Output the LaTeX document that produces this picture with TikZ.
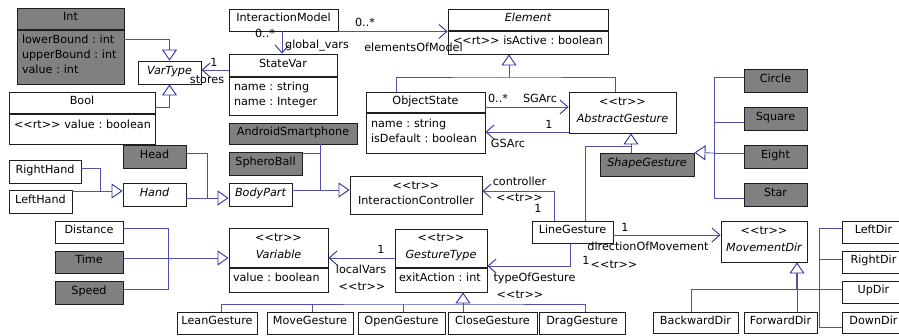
\documentclass[tikz,border=0pt]{standalone}
\usepackage{fontspec}
\setmainfont{DejaVu Sans}
\usetikzlibrary{arrows.meta}
\definecolor{linkblue}{RGB}{80,80,176}
\definecolor{tipblue}{RGB}{48,48,160}
\definecolor{boxgray}{RGB}{128,128,128}
\definecolor{boxline}{RGB}{30,30,30}
\newcommand\stereo[1]{<{}<#1>{}>}
\begin{document}
\begin{tikzpicture}[x=1pt,y=-1pt,font=\fontsize{11.2}{15}\selectfont\frenchspacing,
  cls/.style={draw=boxline,line width=0.9pt,fill=white,inner sep=0pt,
              text height=7pt,text depth=4pt,align=center},
  gcls/.style={cls,fill=boxgray},
  multi/.style={text height=,text depth=#1},
  attr/.style={cls,align=left,inner xsep=5pt,inner ysep=0pt,
               text height=8.5pt,text depth=#1},
  lbl/.style={inner sep=0pt,anchor=base},
  link/.style={draw=linkblue,line width=0.8pt},
  assoc/.style={link,-{Straight Barb[length=8pt,width=14pt,line width=0.9pt,color=tipblue]}},
  gen/.style={link,-{Triangle[open,length=11pt,width=15pt,line width=0.9pt,color=tipblue]}},
  divider/.style={draw=boxline,line width=1.8pt}]

\useasboundingbox (0,0) rectangle (899,335);

% ---------- variable types ----------
\node[gcls,minimum width=107pt,minimum height=22pt] (intT) at (70.5,19) {Int};
\node[attr=35.5pt,fill=boxgray,text width=97pt,minimum height=54pt] (intA) at (70.5,57)
  {lowerBound : int\\upperBound : int\\value : int};
\node[cls,minimum width=146pt,minimum height=22pt] (boolT) at (82,103) {Bool};
\node[attr=10.5pt,text width=136pt,minimum height=30pt] (boolA) at (82,129)
  {\mbox{\stereo{rt} value : boolean}};
\node[cls,minimum width=63pt,minimum height=23pt] (vartype) at (169.5,72.5) {\itshape VarType};

% ---------- model ----------
\node[cls,minimum width=109pt,minimum height=22pt] (imodel) at (283.5,20) {InteractionModel};
\node[cls,minimum width=108pt,minimum height=23pt] (stateT) at (283,65.5) {StateVar};
\node[attr=20.5pt,text width=98pt,minimum height=38pt] (stateA) at (283,96)
  {name : string\\name : Integer};
\node[cls,minimum width=160pt,minimum height=22pt] (elemT) at (528,20) {\itshape Element};
\node[attr=5.5pt,text width=150pt,minimum height=23pt] (elemA) at (528,42.5)
  {\mbox{\stereo{rt} isActive : boolean}};
\node[cls,minimum width=119pt,minimum height=21pt] (objT) at (425.5,102.5) {ObjectState};
\node[attr=20.5pt,text width=109pt,minimum height=40pt] (objA) at (425.5,133)
  {name : string\\isDefault : boolean};
\node[cls,multi=4pt,minimum width=107pt,minimum height=41pt] (absG) at (622.5,112.5)
  {\stereo{tr}\\[2pt]\itshape AbstractGesture};

% ---------- shape gestures ----------
\node[gcls,minimum width=94pt,minimum height=23pt] (shapeG) at (647,164.5) {\itshape ShapeGesture};
\node[gcls,minimum width=63pt,minimum height=23pt] (circ) at (775.5,80.5) {Circle};
\node[gcls,minimum width=63pt,minimum height=23pt] (sqr) at (775.5,118.5) {Square};
\node[gcls,minimum width=63pt,minimum height=23pt] (eight) at (775.5,156.5) {Eight};
\node[gcls,minimum width=63pt,minimum height=23pt] (star) at (775.5,194.5) {Star};

% ---------- body parts and devices ----------
\node[gcls,minimum width=63pt,minimum height=23pt] (head) at (154.5,156.5) {Head};
\node[cls,minimum width=72pt,minimum height=23pt] (rhand) at (45,171.5) {RightHand};
\node[cls,minimum width=63pt,minimum height=23pt] (lhand) at (40.5,201.5) {LeftHand};
\node[cls,minimum width=63pt,minimum height=23pt] (hand) at (154.5,194.5) {\itshape Hand};
\node[cls,minimum width=63pt,minimum height=23pt] (bodyP) at (260.5,194.5) {\itshape BodyPart};
\node[gcls,minimum width=128pt,minimum height=21pt] (android) at (293,133.5) {AndroidSmartphone};
\node[gcls,minimum width=73pt,minimum height=23pt] (sphero) at (265.5,163.5) {SpheroBall};
\node[cls,multi=3pt,minimum width=132pt,minimum height=38pt] (ictrl) at (416,195)
  {\stereo{tr}\\InteractionController};

% ---------- gestures ----------
\node[cls,minimum width=81pt,minimum height=22pt] (lineG) at (572.5,232) {LineGesture};
\node[cls,multi=4pt,minimum width=92pt,minimum height=39pt] (gtT) at (441,248.5)
  {\stereo{tr}\\[2pt]\itshape GestureType};
\node[attr=6.5pt,inner xsep=4pt,text width=84pt,minimum height=24pt] (gtA) at (441,280)
  {exitAction : int};
\node[cls,multi=3pt,minimum width=99pt,minimum height=40pt] (varT) at (278.5,248)
  {\stereo{tr}\\[2pt]\itshape Variable};
\node[attr=6.5pt,inner xsep=4pt,text width=91pt,minimum height=24pt] (varA) at (278.5,280)
  {value : boolean};
\node[cls,minimum width=68pt,minimum height=22pt] (dist) at (89,232) {Distance};
\node[gcls,minimum width=68pt,minimum height=22pt] (time) at (89,262) {Time};
\node[gcls,minimum width=68pt,minimum height=23pt] (speed) at (89,292.5) {Speed};
\node[cls,minimum width=80pt,minimum height=22pt] (gLean) at (217,323) {LeanGesture};
\node[cls,minimum width=86pt,minimum height=22pt] (gMove) at (310,323) {MoveGesture};
\node[cls,minimum width=87pt,minimum height=22pt] (gOpen) at (401.5,323) {OpenGesture};
\node[cls,minimum width=89pt,minimum height=22pt] (gClose) at (492.5,323) {CloseGesture};
\node[cls,minimum width=86pt,minimum height=22pt] (gDrag) at (582,323) {DragGesture};

% ---------- directions ----------
\node[cls,multi=4pt,minimum width=86pt,minimum height=41pt] (movD) at (764,241.5)
  {\stereo{tr}\\[2pt]\itshape MovementDir};
\node[cls,minimum width=63pt,minimum height=22pt] (leftD) at (873.5,232) {LeftDir};
\node[cls,minimum width=63pt,minimum height=22pt] (rightD) at (873.5,262) {RightDir};
\node[cls,minimum width=63pt,minimum height=22pt] (upD) at (873.5,292) {UpDir};
\node[cls,minimum width=63pt,minimum height=21pt] (downD) at (873.5,322.5) {DownDir};
\node[cls,minimum width=85pt,minimum height=21pt] (back) at (695.5,322.5) {BackwardDir};
\node[cls,minimum width=73pt,minimum height=21pt] (fwd) at (780.5,322.5) {ForwardDir};

% compartment dividers
\foreach \c in {intA,boolA,stateA,elemA,objA,gtA,varA}
  \draw[divider] (\c.north west) -- (\c.north east);

% ---------- connectors ----------
\draw[gen] (intA.east |- 0,39) -| (vartype.north);
\draw[gen] (boolT.east |- 0,107) -| (vartype.south);
\draw[assoc] (stateT.west |- 0,70) -- (vartype.east |- 0,70);

\draw[assoc] (imodel.south -| 282,0) -- (stateT.north -| 282,0);
\draw[assoc] (imodel.south east) -- (elemT.south west);

\coordinate (elemJ) at (509,77);
\draw[gen] (elemJ) -- (elemA.south -| elemJ);
\draw[link] (objT.north -| 396,0) |- (elemJ) -| (absG.north -| 615,0);

\draw[assoc] (objT.east |- 0,107) -- (absG.west |- 0,107);
\draw[assoc] (absG.west |- 0,132) -- (objA.east |- 0,132);

\coordinate (absJ) at (631,146);
\draw[gen] (shapeG.north -| absJ) -- (absG.south -| absJ);
\draw[link] (lineG.north -| 585,0) |- (absJ);

\coordinate (shapeJ) at (714,153);
\draw[gen] (shapeJ) -- (shapeG.north east);
\draw[link] (circ.west |- 0,77) -| (shapeJ |- 0,198) -- (star.west |- 0,198);
\draw[link] (sqr.west |- 0,122) -- (shapeJ |- 0,122);
\draw[link] (eight.west |- shapeJ) -- (shapeJ);

\coordinate (bodyJ) at (207,198);
\draw[gen] (bodyJ) -- (bodyP.west |- bodyJ);
\draw[link] (head.east |- 0,153) -| (bodyJ);
\draw[link] (hand.east |- bodyJ) -- (bodyJ);

\coordinate (handJ) at (100,191);
\draw[gen] (handJ) -- (hand.west |- handJ);
\draw[link] (rhand.east |- 0,168) -| (handJ);
\draw[link] (lhand.east |- handJ) -- (handJ);

\coordinate (ctrlJ) at (320,190);
\draw[gen] (bodyP.east |- ctrlJ) -- (ictrl.west |- ctrlJ);
\draw[link] (android.south -| ctrlJ) -- (ctrlJ);
\draw[link] (sphero.east |- 0,153) -- (ctrlJ |- 0,153);

\draw[assoc] (lineG.north -| 554,0) |- (ictrl.east |- 0,191);
\draw[assoc] (lineG.south -| 570,0) |- (gtT.east |- 0,266);
\draw[assoc] (lineG.east |- 0,235) -- (movD.west |- 0,235);
\draw[assoc] (gtT.west |- 0,258) -- (varT.east |- 0,258);

\coordinate (varJ) at (168,258);
\draw[gen] (time.east |- varJ) -- (varT.west |- varJ);
\draw[link] (dist.east |- 0,228) -| (varJ |- 0,289) -- (speed.east |- 0,289);

\coordinate (gtJ) at (463,304);
\draw[gen] (gClose.north -| gtJ) -- (gtA.south -| gtJ);
\draw[link] (gLean.north -| 221,0) |- (gtJ) -| (gDrag.north -| 585,0);
\draw[link] (gMove.north -| 312,0) -- (gtJ -| 312,0);
\draw[link] (gOpen.north -| 403,0) -- (gtJ -| 403,0);

\coordinate (dirJ) at (797,289);
\draw[gen,line width=1.4pt] (dirJ) -- (movD.south -| dirJ);
\draw[link] (fwd.north -| dirJ) -- (dirJ);
\draw[link] (back.north -| 691,0) |- (upD.west |- dirJ);
\draw[link] (leftD.west |- 0,228) -| (819,327) -- (downD.west |- 0,327);
\draw[link] (rightD.west |- 0,259) -- (819,259);

% ---------- role names and multiplicities ----------
\node[lbl] (mStores) at (214,66) {1};
\node[lbl] (rStores) at (207,83) {stores};
\node[lbl] (mGlobal) at (265,37) {0..*};
\node[lbl] (rGlobal) at (317,48) {global\_vars};
\node[lbl] (mElems) at (365,26) {0..*};
\node[lbl] (rElems) at (413.5,51) {elementsOfModel};
\node[lbl] (mSG) at (498,102) {0..*};
\node[lbl] (rSG) at (540,102) {SGArc};
\node[lbl] (mGS) at (549,128) {1};
\node[lbl] (rGS) at (508,147) {GSArc};
\node[lbl] (rCtrl) at (519.5,185) {controller};
\node[lbl] (sCtrl) at (519.5,201) {\stereo{tr}};
\node[lbl] (mCtrl) at (538,212) {1};
\node[lbl] (mDir) at (625,231) {1};
\node[lbl] (rDir) at (648,250) {directionOfMovement};
\node[lbl] (mType) at (586,264) {1};
\node[lbl] (sDir) at (614,268) {\stereo{tr}};
\node[lbl] (rType) at (534.5,281) {typeOfGesture};
\node[lbl] (sType) at (520,298) {\stereo{tr}};
\node[lbl] (mLocal) at (381,253) {1};
\node[lbl] (rLocal) at (361,273) {localVars};
\node[lbl] (sLocal) at (362,290) {\stereo{tr}};
\end{tikzpicture}
\end{document}
